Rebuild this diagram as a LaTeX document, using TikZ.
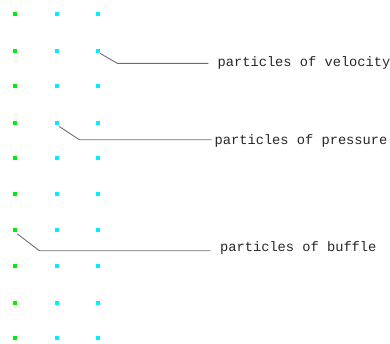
\documentclass[tikz,border=0pt]{standalone}
\usepackage{fontspec}
\setmonofont{Liberation Mono}
\definecolor{pgreen}{RGB}{0,240,0}
\definecolor{pcyan}{RGB}{0,238,255}
\definecolor{leadgray}{RGB}{110,110,110}
\tikzset{
  gdot/.style={fill=pgreen, draw=none, minimum size=4pt, inner sep=0pt, rectangle},
  cdot/.style={fill=pcyan, draw=none, minimum size=4pt, inner sep=0pt, rectangle},
  lead/.style={draw=leadgray, line width=0.9pt},
  lbl/.style={font=\ttfamily\fontsize{13.7}{15}\selectfont, inner sep=0pt, anchor=base west, text=black!85}
}
\begin{document}
\begin{tikzpicture}[x=1pt,y=-1pt]
\useasboundingbox (0,0) rectangle (390,343);
\foreach \r/\yy in {1/14,2/50.5,3/86.2,4/122.5,5/158,6/194,7/229.8,8/266.2,9/302.5,10/338.3}{
  \node[gdot] (d-\r-1) at (15.2,\yy) {};
  \node[cdot] (d-\r-2) at (57.3,\yy) {};
  \node[cdot] (d-\r-3) at (98.3,\yy) {};
}
\node[lbl] (vel) at (217.5,66) {particles of velocity};
\node[lbl] (pre) at (214.5,144) {particles of pressure};
\node[lbl] (buf) at (220,251.5) {particles of buffle};
\coordinate (vb) at (117.3,63.3);
\coordinate (pb) at (79.3,139.7);
\coordinate (bb) at (39.3,250.7);
\draw[lead] ([shift={(2,3)}]d-2-3.center) -- (vb) -- (vb -| 208.3,0);
\draw[lead] ([shift={(2,4)}]d-4-2.center) -- (pb) -- (pb -| 211.7,0);
\draw[lead] ([shift={(2,4)}]d-7-1.center) -- (bb) -- (bb -| 210.7,0);
\end{tikzpicture}
\end{document}
